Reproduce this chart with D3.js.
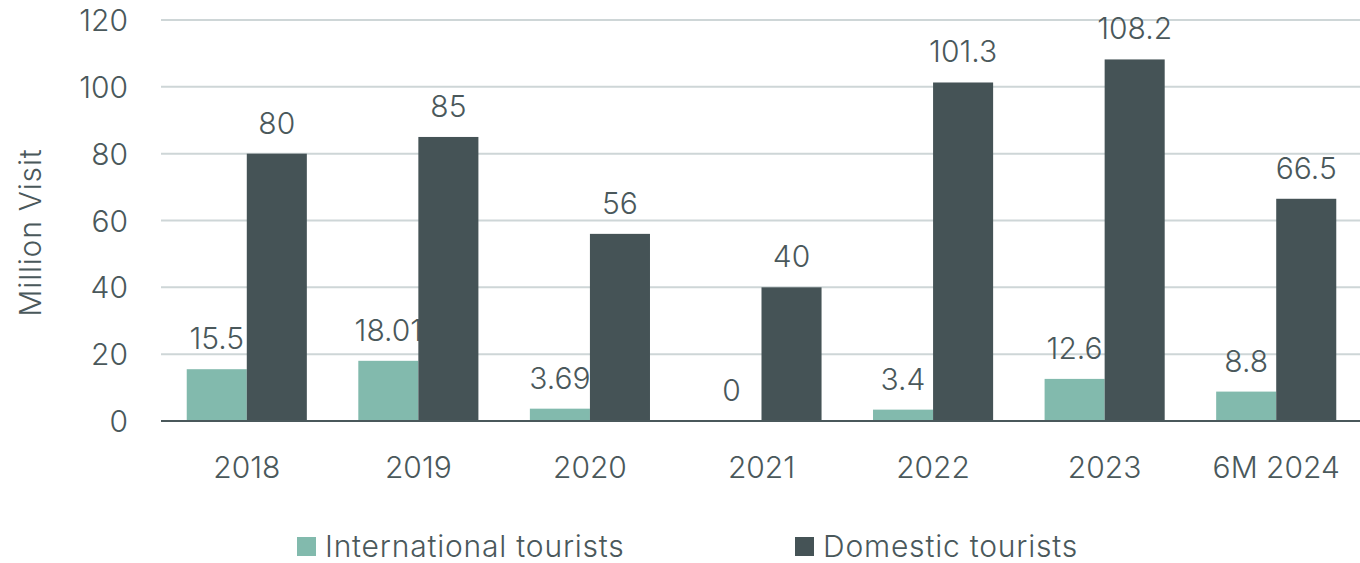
<html>
<head>
    <script src="https://d3js.org/d3.v7.min.js"></script>
    <style>
        body { margin: 0; background: #fff; }
        text { font-family: Inter, Roboto, sans-serif; font-weight: 300; fill: #4a585b; }
    </style>
</head>
<body>
    <div id="vis"></div>
<script>
    // data
    var categories = ["2018", "2019", "2020", "2021", "2022", "2023", "6M 2024"];
    var international = [15.5, 18.01, 3.69, 0, 3.4, 12.6, 8.8];
    var domestic = [80, 85, 56, 40, 101.3, 108.2, 66.5];
    var intlLabels = ["15.5", "18.01", "3.69", "0", "3.4", "12.6", "8.8"];
    var domLabels = ["80", "85", "56", "40", "101.3", "108.2", "66.5"];
    var yTicks = [0, 20, 40, 60, 80, 100, 120];
    var seriesNames = ["International tourists", "Domestic tourists"];
    var colors = ["#82baad", "#455356"];

    var W = 1360, H = 563;
    var margin = { top: 20, right: 0, bottom: 142, left: 161 };
    var width = W - margin.left - margin.right + 2,
        height = H - margin.top - margin.bottom;

    var svg = d3.select("#vis").append("svg")
        .attr("width", W)
        .attr("height", H);
    var g = svg.append("g")
        .attr("transform", "translate(" + margin.left + "," + margin.top + ")");

    var x = d3.scaleBand()
        .domain(categories)
        .range([0, width])
        .paddingInner(0.3)
        .paddingOuter(0.15);
    var x1 = d3.scaleBand()
        .domain(seriesNames)
        .range([0, x.bandwidth()]);
    var y = d3.scaleLinear()
        .domain([0, 120])
        .range([height, 0]);

    // gridlines
    g.append("g")
        .selectAll("line")
        .data(yTicks.filter(function (d) { return d > 0; }))
        .enter().append("line")
        .attr("x1", 0).attr("x2", W - margin.left)
        .attr("y1", function (d) { return y(d); })
        .attr("y2", function (d) { return y(d); })
        .style("stroke", "#ced6d7")
        .style("stroke-width", 2);

    // y tick labels
    g.append("g")
        .selectAll("text")
        .data(yTicks)
        .enter().append("text")
        .attr("x", -33)
        .attr("y", function (d) { return y(d) + 11; })
        .attr("text-anchor", "end")
        .style("font-size", "30px")
        .text(function (d) { return d; });

    // y title
    g.append("text")
        .attr("transform", "rotate(-90)")
        .attr("x", -(height / 2) - 12)
        .attr("y", -margin.left + 41)
        .attr("text-anchor", "middle")
        .style("font-size", "30px")
        .style("letter-spacing", "0.8px")
        .text("Million Visit");

    var rows = categories.map(function (c, i) {
        return { cat: c, vals: [international[i], domestic[i]], labels: [intlLabels[i], domLabels[i]] };
    });

    var groups = g.append("g")
        .selectAll("g")
        .data(rows)
        .enter().append("g")
        .attr("transform", function (d) { return "translate(" + x(d.cat) + ",0)"; });

    groups.selectAll("rect")
        .data(function (d) { return d.vals.map(function (v, j) { return { v: v, s: seriesNames[j], j: j }; }); })
        .enter().append("rect")
        .attr("x", function (d) { return x1(d.s); })
        .attr("width", x1.bandwidth())
        .attr("y", function (d) { return y(d.v); })
        .attr("height", function (d) { return height - y(d.v); })
        .style("fill", function (d) { return colors[d.j]; });

    groups.selectAll("text")
        .data(function (d) { return d.vals.map(function (v, j) { return { v: v, s: seriesNames[j], lab: d.labels[j] }; }); })
        .enter().append("text")
        .attr("x", function (d) { return x1(d.s) + x1.bandwidth() / 2; })
        .attr("y", function (d) { return y(d.v) - 20; })
        .attr("text-anchor", "middle")
        .style("font-size", "30px")
        .text(function (d) { return d.lab; });

    // x axis line
    g.append("line")
        .attr("x1", 0).attr("x2", W - margin.left)
        .attr("y1", height).attr("y2", height)
        .style("stroke", "#4a585b")
        .style("stroke-width", 2);

    // category labels
    g.append("g")
        .selectAll("text")
        .data(categories)
        .enter().append("text")
        .attr("x", function (d) { return x(d) + x.bandwidth() / 2; })
        .attr("y", height + 57)
        .attr("text-anchor", "middle")
        .style("font-size", "30px")
        .text(function (d) { return d; });

    // legend
    var legX = [297, 795];
    var legend = svg.append("g")
        .selectAll("g")
        .data(seriesNames)
        .enter().append("g")
        .attr("transform", function (d, i) { return "translate(" + legX[i] + ",537)"; });
    legend.append("rect")
        .attr("width", 19).attr("height", 19)
        .style("fill", function (d, i) { return colors[i]; });
    legend.append("text")
        .attr("x", 28)
        .attr("y", 20)
        .style("font-size", "30px")
        .style("letter-spacing", "0.8px")
        .text(function (d) { return d; });
</script>
</body>
</html>
